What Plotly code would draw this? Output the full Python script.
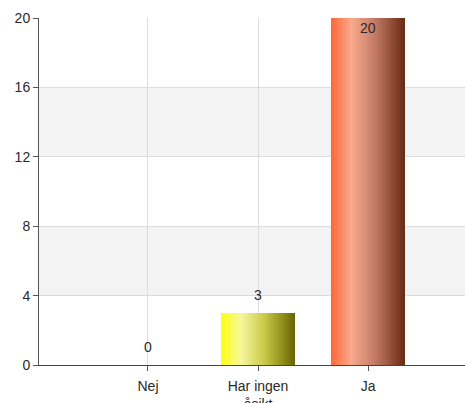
import plotly.graph_objects as go

# Survey answers and counts
categories = ["Nej", "Har ingen<br>åsikt", "Ja"]
counts = [0, 3, 20]

# Horizontal gradient stops (position across bar width, colour) per category
gradients = [
    [(0.0, (120, 150, 200)), (1.0, (60, 80, 120))],
    [(0.0, (255, 255, 10)), (0.28, (246, 246, 160)), (0.6, (200, 200, 70)), (1.0, (104, 102, 0))],
    [(0.0, (255, 100, 55)), (0.28, (249, 170, 140)), (0.6, (195, 122, 102)), (1.0, (104, 44, 20))],
]

BAR_W = 0.67
SLICES = 48
FONT = "Liberation Sans, Arial"


def color_at(stops, t):
    for (p0, c0), (p1, c1) in zip(stops, stops[1:]):
        if p0 <= t <= p1:
            f = (t - p0) / (p1 - p0) if p1 > p0 else 0
            r, g, b = (round(a + (b_ - a) * f) for a, b_ in zip(c0, c1))
            return f"rgb({r},{g},{b})"
    r, g, b = stops[-1][1]
    return f"rgb({r},{g},{b})"


fig = go.Figure()

# Each bar is built from thin vertical slices to give a left-to-right shading
step = BAR_W / SLICES
for i in range(SLICES):
    t = (i + 0.5) / SLICES
    fig.add_trace(go.Bar(
        x=categories,
        y=counts,
        width=step * 1.08,
        offset=-BAR_W / 2 + i * step,
        marker=dict(color=[color_at(g, t) for g in gradients], line=dict(width=0)),
        showlegend=False,
        hoverinfo="skip",
    ))

# Value labels: above short bars, inside the top of the tallest one
for cat, v in zip(categories, counts):
    inside = v >= 18
    fig.add_annotation(
        x=cat, y=v, text=str(v), showarrow=False,
        yanchor="top" if inside else "bottom",
        yshift=0 if inside else 8,
        font=dict(family=FONT, size=14, color="#2a2a2a"),
    )

# Alternating grey bands
for y0, y1 in [(4, 8), (12, 16)]:
    fig.add_shape(type="rect", xref="paper", yref="y", x0=0, x1=1, y0=y0, y1=y1,
                  fillcolor="#f3f3f3", line=dict(width=0), layer="below")

fig.update_layout(
    width=465,
    height=403,
    margin=dict(l=39, r=0, t=18, b=38),
    paper_bgcolor="white",
    plot_bgcolor="white",
    barmode="overlay",
    bargap=0,
    font=dict(family=FONT, size=14, color="#2a2a2a"),
    xaxis=dict(
        type="category",
        range=[-0.99, 2.88],
        automargin=False,
        showgrid=True,
        gridcolor="#dcdcdc",
        gridwidth=1,
        showline=True,
        linecolor="#444444",
        linewidth=1,
        ticks="outside",
        ticklen=5,
        tickcolor="#555555",
        ticklabelstandoff=3,
        tickfont=dict(size=14, color="#2a2a2a"),
        fixedrange=True,
    ),
    yaxis=dict(
        range=[0, 20],
        dtick=4,
        automargin=False,
        showgrid=True,
        gridcolor="#dcdcdc",
        gridwidth=1,
        zeroline=False,
        showline=True,
        linecolor="#555555",
        linewidth=1,
        ticks="outside",
        ticklen=5,
        tickcolor="#555555",
        tickfont=dict(size=14, color="#2a2a2a"),
        fixedrange=True,
    ),
)

fig.write_html("out.html")
